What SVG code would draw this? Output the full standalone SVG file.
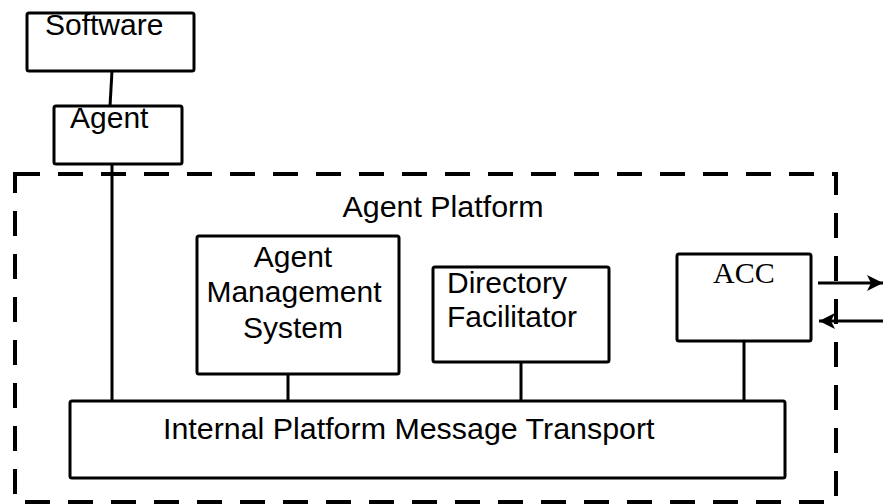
<svg xmlns="http://www.w3.org/2000/svg" width="883" height="504" viewBox="0 0 883 504">
<defs>
<style>
.box{fill:#fff;stroke:#000;stroke-width:3}
.ln{stroke:#000;stroke-width:3;fill:none}
.t{font-family:"Liberation Sans",Arial,sans-serif;font-size:30px;fill:#000}
.tm{font-family:"Liberation Serif","Times New Roman",serif;font-size:30px;fill:#000}
.dash{fill:none;stroke:#000;stroke-width:4;stroke-dasharray:25 18}
</style>
<marker id="ah" viewBox="0 0 16 18" refX="16" refY="9" markerWidth="16" markerHeight="18" markerUnits="userSpaceOnUse" orient="auto">
<path d="M0,1 L16,9 L0,17 L4,9 Z" fill="#000"/>
</marker>
</defs>
<rect id="platform" class="dash" x="15" y="174" width="821" height="328"/>
<text class="t" x="443" y="217" text-anchor="middle" style="font-size:30.4px">Agent Platform</text>
<g id="connectors">
<line class="ln" x1="112" y1="71" x2="110" y2="106"/>
<line class="ln" x1="112" y1="164" x2="112" y2="401"/>
<line class="ln" x1="288" y1="374" x2="288" y2="401"/>
<line class="ln" x1="521" y1="362" x2="521" y2="401"/>
<line class="ln" x1="744" y1="341" x2="744" y2="401"/>
<line class="ln" x1="818" y1="283" x2="883" y2="283" marker-end="url(#ah)"/>
<line class="ln" x1="883" y1="321" x2="819" y2="321" marker-end="url(#ah)"/>
</g>
<g id="software">
<rect class="box" x="27" y="13" width="167" height="58" rx="2"/>
<text class="t" x="45" y="35">Software</text>
</g>
<g id="agent">
<rect class="box" x="54" y="106" width="128" height="58" rx="2"/>
<text class="t" x="70" y="128">Agent</text>
</g>
<g id="ams">
<rect class="box" x="197" y="236" width="202" height="138" rx="2"/>
<text class="t" x="293" y="267" text-anchor="middle">Agent</text>
<text class="t" x="294" y="302" text-anchor="middle">Management</text>
<text class="t" x="293" y="338" text-anchor="middle">System</text>
</g>
<g id="df">
<rect class="box" x="433" y="267" width="176" height="95" rx="2"/>
<text class="t" x="447" y="293">Directory</text>
<text class="t" x="447" y="327">Facilitator</text>
</g>
<g id="acc">
<rect class="box" x="677" y="254" width="134" height="87" rx="2"/>
<text class="tm" x="713" y="283">ACC</text>
</g>
<g id="ipmt">
<rect class="box" x="70" y="401" width="715" height="77" rx="2"/>
<text class="t" x="163" y="439" style="font-size:30.4px">Internal Platform Message Transport</text>
</g>
</svg>
